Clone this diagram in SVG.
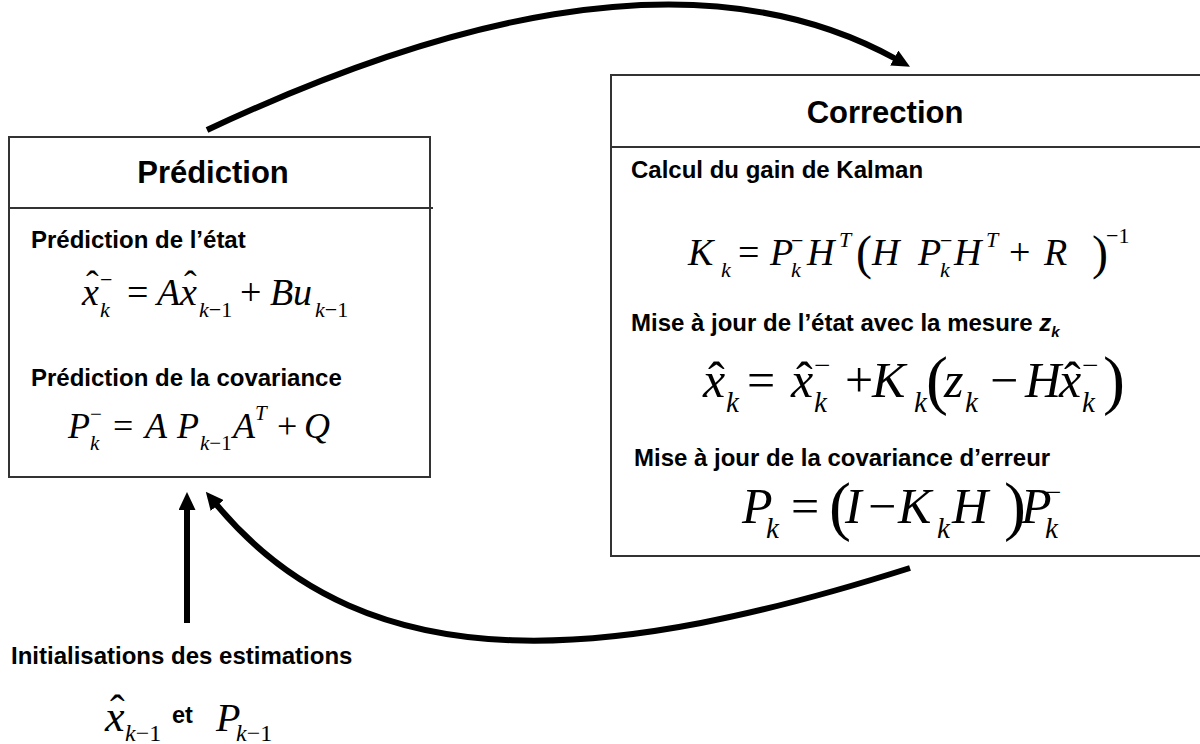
<svg xmlns="http://www.w3.org/2000/svg" width="1200" height="744" viewBox="0 0 1200 744">
<defs>
<style>
.box{fill:#fff;stroke:#333;stroke-width:2}
.div{stroke:#333;stroke-width:2}
.title{font-family:"Liberation Sans",Arial,sans-serif;font-weight:bold;font-size:31px;fill:#000}
.lbl{font-family:"Liberation Sans",Arial,sans-serif;font-weight:bold;font-size:24px;fill:#000}
.m{font-family:"Liberation Serif","Times New Roman",serif;fill:#000}
.i{font-style:italic}
.conn{fill:none;stroke:#000;stroke-width:6}
</style>
<marker id="ah" markerUnits="userSpaceOnUse" viewBox="0 0 18 17" markerWidth="18" markerHeight="17" refX="2" refY="8.5" orient="auto">
<path d="M0,0 L18,8.5 L0,17 Z" fill="#000"/>
</marker>
</defs>
<rect width="1200" height="744" fill="#fff"/>

<g id="prediction">
<rect class="box" x="9" y="137" width="421" height="340"/>
<line class="div" x1="8" y1="208" x2="433" y2="208"/>
<text class="title" x="213" y="183" text-anchor="middle">Prédiction</text>
<text class="lbl" x="31" y="248">Prédiction de l’état</text>
<g class="m" font-size="38">
<text class="i" x="82" y="305">x</text>
<text x="86" y="297">ˆ</text>
<text class="i" x="100" y="317" font-size="22">k</text>
<text x="100" y="287" font-size="22">−</text>
<text x="127" y="305">=</text>
<text class="i" x="157" y="305">A</text>
<text class="i" x="180" y="305">x</text>
<text x="184" y="297">ˆ</text>
<text x="199" y="317" font-size="22"><tspan class="i">k</tspan>−1</text>
<text x="240" y="305">+</text>
<text class="i" x="270" y="305">B</text>
<text class="i" x="293" y="305">u</text>
<text x="315" y="317" font-size="22"><tspan class="i">k</tspan>−1</text>
</g>
<text class="lbl" x="31" y="386">Prédiction de la covariance</text>
<g class="m" font-size="36">
<text class="i" x="68" y="438">P</text>
<text class="i" x="90" y="450" font-size="21">k</text>
<text x="90" y="421" font-size="21">−</text>
<text x="113" y="438">=</text>
<text class="i" x="145" y="438">A</text>
<text class="i" x="177" y="438">P</text>
<text x="200" y="450" font-size="21"><tspan class="i">k</tspan>−1</text>
<text class="i" x="233" y="438">A</text>
<text class="i" x="255" y="420" font-size="21">T</text>
<text x="277" y="438">+</text>
<text class="i" x="304" y="438">Q</text>
</g>
</g>

<g id="correction">
<rect class="box" x="611" y="75" width="600" height="481"/>
<line class="div" x1="611" y1="147" x2="1200" y2="147"/>
<text class="title" x="885" y="123" text-anchor="middle">Correction</text>
<text class="lbl" x="631" y="178">Calcul du gain de Kalman</text>
<g class="m" font-size="38">
<text class="i" x="688" y="265">K</text>
<text class="i" x="721" y="277" font-size="22">k</text>
<text x="738" y="265">=</text>
<text class="i" x="770" y="265">P</text>
<text class="i" x="791" y="277" font-size="22">k</text>
<text x="791" y="248" font-size="22">−</text>
<text class="i" x="807" y="265">H</text>
<text class="i" x="839" y="247" font-size="22">T</text>
<text x="856" y="269" font-size="48">(</text>
<text class="i" x="872" y="265">H</text>
<text class="i" x="918" y="265">P</text>
<text class="i" x="940" y="277" font-size="22">k</text>
<text x="940" y="248" font-size="22">−</text>
<text class="i" x="954" y="265">H</text>
<text class="i" x="986" y="247" font-size="22">T</text>
<text x="1009" y="265">+</text>
<text class="i" x="1044" y="265">R</text>
<text x="1092" y="269" font-size="48">)</text>
<text x="1106" y="243" font-size="22">−1</text>
</g>
<text class="lbl" x="631" y="331">Mise à jour de l’état avec la mesure <tspan font-style="italic">z</tspan><tspan font-style="italic" font-size="15" dy="6">k</tspan></text>
<g class="m" font-size="50">
<text class="i" x="703" y="397">x</text>
<text x="708" y="397">ˆ</text>
<text class="i" x="726" y="412" font-size="29">k</text>
<text x="747" y="397">=</text>
<text class="i" x="791" y="397">x</text>
<text x="796" y="397">ˆ</text>
<text class="i" x="814" y="412" font-size="29">k</text>
<text x="814" y="375" font-size="29">−</text>
<text x="845" y="397">+</text>
<text class="i" x="872" y="397">K</text>
<text class="i" x="914" y="412" font-size="29">k</text>
<text x="926" y="402" font-size="66">(</text>
<text class="i" x="944" y="397">z</text>
<text class="i" x="965" y="412" font-size="29">k</text>
<text x="990" y="397">−</text>
<text class="i" x="1025" y="397">H</text>
<text class="i" x="1059" y="397">x</text>
<text x="1064" y="397">ˆ</text>
<text class="i" x="1082" y="412" font-size="29">k</text>
<text x="1082" y="375" font-size="29">−</text>
<text x="1103" y="402" font-size="66">)</text>
</g>
<text class="lbl" x="634" y="466">Mise à jour de la covariance d’erreur</text>
<g class="m" font-size="50">
<text class="i" x="742" y="523">P</text>
<text class="i" x="766" y="538" font-size="29">k</text>
<text x="791" y="523">=</text>
<text x="829" y="528" font-size="66">(</text>
<text class="i" x="845" y="523">I</text>
<text x="868" y="523">−</text>
<text class="i" x="898" y="523">K</text>
<text class="i" x="937" y="538" font-size="29">k</text>
<text class="i" x="952" y="523">H</text>
<text x="1004" y="528" font-size="66">)</text>
<text class="i" x="1021" y="523">P</text>
<text class="i" x="1045" y="538" font-size="29">k</text>
<text x="1045" y="502" font-size="29">−</text>
</g>
</g>

<g id="init">
<text class="lbl" x="11" y="664">Initialisations des estimations</text>
<g class="m">
<text class="i" x="105" y="731" font-size="44">x</text>
<text x="110" y="725" font-size="44">ˆ</text>
<text x="125" y="741" font-size="24"><tspan class="i">k</tspan>−1</text>
<text x="172" y="723" font-family="Liberation Sans, Arial, sans-serif" font-weight="bold" font-size="23.5">et</text>
<text class="i" x="216" y="731" font-size="40">P</text>
<text x="236" y="741" font-size="24"><tspan class="i">k</tspan>−1</text>
</g>
</g>

<g id="connectors">
<path class="conn" d="M207,130 C420,30 690,-55 896,59" marker-end="url(#ah)"/>
<path class="conn" d="M910,568 C620,660 370,690 216,504" marker-end="url(#ah)"/>
<path class="conn" d="M187,623 L187,508" marker-end="url(#ah)"/>
</g>
</svg>
